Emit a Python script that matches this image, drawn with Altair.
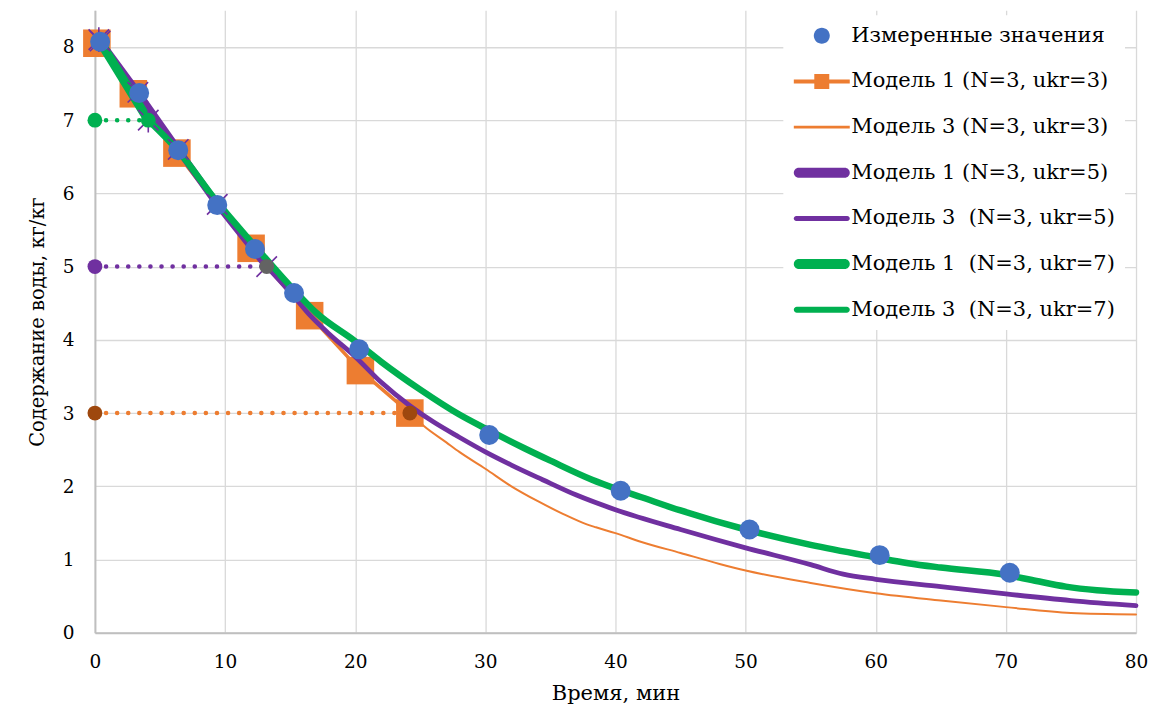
import altair as alt
import pandas as pd

# ---------------- data ----------------
meas_t = [0.4, 3.4, 6.4, 9.4, 12.3, 15.3, 20.3, 30.3, 40.4, 50.3, 60.3, 70.3]
meas_y = [8.07, 7.37, 6.59, 5.84, 5.24, 4.64, 3.87, 2.70, 1.94, 1.41, 1.06, 0.82]

m1u3_t = [0.15, 2.95, 6.3, 12.0, 16.5, 20.4, 24.2]
m1u3_y = [8.05, 7.36, 6.55, 5.25, 4.33, 3.58, 3.0]

m3u3_t = [24.2, 25.3, 27, 28, 30, 32, 34, 36, 37.8, 38.5, 40, 42, 45, 48, 50, 55, 60, 65, 70, 75, 80]
m3u3_y = [3.0, 2.82, 2.6, 2.47, 2.24, 2.0, 1.8, 1.62, 1.48, 1.44, 1.36, 1.24, 1.09, 0.94, 0.85, 0.68, 0.54, 0.44, 0.35, 0.27, 0.25]

m1u5_t = [0.4, 3.3, 6.4, 9.4, 13.2]
m1u5_y = [8.08, 7.38, 6.6, 5.85, 5.0]

m3u5_t = [13.2, 15.3, 16.5, 18, 20, 22, 24.2, 26, 28, 30, 32, 34.4, 37, 40, 45, 50, 55, 57.5, 60, 65, 70, 75, 80]
m3u5_y = [5.0, 4.59, 4.34, 4.08, 3.77, 3.42, 3.1, 2.88, 2.67, 2.47, 2.29, 2.09, 1.88, 1.68, 1.41, 1.16, 0.93, 0.80, 0.73, 0.63, 0.53, 0.44, 0.37]

m1u7_t = [0.3, 4.1]
m1u7_y = [8.1, 7.0]

m3u7_t = [4.1, 6.4, 9.4, 12.3, 15.3, 17, 20, 22, 25, 28, 30, 33, 35, 38.2, 40, 42, 45, 50, 55, 60, 62.5, 65, 70, 72, 74.6, 77, 80]
m3u7_y = [7.0, 6.58, 5.88, 5.28, 4.68, 4.37, 3.98, 3.7, 3.32, 2.98, 2.79, 2.52, 2.35, 2.09, 1.97, 1.85, 1.67, 1.41, 1.2, 1.03, 0.95, 0.89, 0.79, 0.72, 0.63, 0.58, 0.55]

# critical points (dotted guides from the y-axis)
crit_t = [24.2, 13.2, 4.1]
crit_y = [3.0, 5.0, 7.0]

series_names = [
    "Измеренные значения",
    "Модель 1 (N=3, ukr=3)",
    "Модель 3 (N=3, ukr=3)",
    "Модель 1 (N=3, ukr=5)",
    "Модель 3\u00a0 (N=3, ukr=5)",
    "Модель 1\u00a0 (N=3, ukr=7)",
    "Модель 3\u00a0 (N=3, ukr=7)",
]

BLUE = "#4472C4"
ORANGE = "#ED7D31"
PURPLE = "#7030A0"
GREEN = "#00B050"
BROWN = "#9E480E"
GRAY = "#636363"
FONT = "DejaVu Serif"

def frame(t, y):
    return pd.DataFrame({"t": t, "y": y})

d_meas = frame(meas_t, meas_y)
d_m1u3 = frame(m1u3_t, m1u3_y)
d_m3u3 = frame(m3u3_t, m3u3_y)
d_m1u5 = frame(m1u5_t, m1u5_y)
d_m3u5 = frame(m3u5_t, m3u5_y)
d_m1u7 = frame(m1u7_t, m1u7_y)
d_m3u7 = frame(m3u7_t, m3u7_y)

xs = alt.Scale(domain=[0, 80], nice=False)
ys = alt.Scale(domain=[0, 8.5], nice=False)

xaxis = alt.Axis(values=list(range(0, 81, 10)), title="Время, мин", grid=True, ticks=False,
                 labelFlush=False, domainColor="#BFBFBF", domainWidth=2, format="d",
                 gridColor="#D9D9D9", gridWidth=1.3,
                 labelFont=FONT, labelFontSize=18.5, labelColor="black", labelPadding=20,
                 titleFont=FONT, titleFontSize=21, titleFontWeight="normal", titleColor="black",
                 titlePadding=11)
yaxis = alt.Axis(values=list(range(0, 9)), title="Содержание воды, кг/кг", grid=True, ticks=False,
                 domainColor="#BFBFBF", domainWidth=2, gridColor="#D9D9D9", gridWidth=1.3, format="d",
                 labelFont=FONT, labelFontSize=18.5, labelColor="black", labelPadding=21,
                 titleFont=FONT, titleFontSize=19.5, titleFontWeight="normal", titleColor="black",
                 titlePadding=15)

X = alt.X("t:Q", scale=xs, axis=xaxis)
Y = alt.Y("y:Q", scale=ys, axis=yaxis)
Xn = alt.X("t:Q", scale=xs)
Yn = alt.Y("y:Q", scale=ys)

def line(df, color, width, interp="linear", **kw):
    return alt.Chart(df).mark_line(color=color, strokeWidth=width, interpolate=interp,
                                   strokeCap="round", strokeJoin="round", **kw).encode(x=Xn, y=Yn)

def dots(df, color, size, shape="circle", filled=True, sw=None):
    kw = {}
    if sw is not None:
        kw["strokeWidth"] = sw
    return alt.Chart(df).mark_point(shape=shape, filled=filled, size=size, color=color,
                                    opacity=1, **kw).encode(x=Xn, y=Yn)

base = alt.Chart(d_meas).mark_point(opacity=0).encode(x=X, y=Y)

l_m1u3 = line(d_m1u3, ORANGE, 3.5)
p_m1u3 = dots(d_m1u3, ORANGE, 760, shape="square")
l_m3u3 = line(d_m3u3, ORANGE, 2, "monotone")
l_m1u5 = line(d_m1u5, PURPLE, 7)
l_m3u5 = line(d_m3u5, PURPLE, 4.8, "monotone")
l_m1u7 = line(d_m1u7, GREEN, 9)
l_m3u7 = line(d_m3u7, GREEN, 6.5, "monotone")

XPATH = "M-1,-1L1,1M-1,1L1,-1"
STAR = "M-1,-1L1,1M-1,1L1,-1M0,-1.2L0,1.2"
p_m1u5 = dots(d_m1u5, PURPLE, 420, shape=XPATH, filled=False, sw=1.6)
p_m1u7 = dots(d_m1u7, PURPLE, 420, shape=STAR, filled=False, sw=1.6)

# dotted guides and their end dots
guide_colors = [ORANGE, PURPLE, GREEN]
start_colors = [BROWN, PURPLE, GREEN]
end_colors = [BROWN, GRAY, GREEN]
guide_layers = []
dot_layers = []
for t, y, gc, sc, ec in zip(crit_t, crit_y, guide_colors, start_colors, end_colors):
    g = frame([0.0, t], [y, y])
    guide_layers.append(line(g, gc, 4.5, strokeDash=[0.1, 11]))
    dot_layers.append(dots(frame([0.0], [y]), sc, 220))
    dot_layers.append(dots(frame([t], [y]), ec, 220))

p_meas = dots(d_meas, BLUE, 400)

# ---------------- legend (native, built from a colour + shape scale) ----------------
def rect(x0, y0, x1, y1):
    return f"M{x0},{y0}L{x1},{y0}L{x1},{y1}L{x0},{y1}Z"

def rline(Lh, h):
    return (f"M{-Lh},{-h}L{Lh},{-h}A{h},{h} 0 0,1 {Lh},{h}L{-Lh},{h}"
            f"A{h},{h} 0 0,1 {-Lh},{-h}Z")

L = 2.8
circle_path = "M-0.8,0A0.8,0.8 0 1,0 0.8,0A0.8,0.8 0 1,0 -0.8,0Z"
legend_shapes = [
    circle_path,
    rect(-L, -0.2, L, 0.2) + rect(-0.75, -0.75, 0.75, 0.75),
    rect(-L, -0.13, L, 0.13),
    rline(L - 0.5, 0.5),
    rline(L - 0.25, 0.25),
    rline(L - 0.5, 0.5),
    rline(L - 0.3, 0.3),
]
legend_colors = [BLUE, ORANGE, ORANGE, PURPLE, PURPLE, GREEN, GREEN]

all_frames = [d_meas, d_m1u3, d_m3u3, d_m1u5, d_m3u5, d_m1u7, d_m3u7]
d_all = pd.concat([f.assign(series=s) for f, s in zip(all_frames, series_names)], ignore_index=True)

leg = alt.Legend(title=None, orient="none", legendX=689, legendY=5,
                 fillColor="white", padding=10,
                 labelFont=FONT, labelFontSize=21, labelColor="black",
                 labelLimit=0, labelOffset=19,
                 symbolSize=400, symbolOpacity=1, symbolStrokeWidth=0,
                 symbolOffset=18, rowPadding=23.7)

legend_layer = alt.Chart(d_all).mark_point(filled=True, opacity=0).encode(
    x=Xn, y=Yn,
    color=alt.Color("series:N", scale=alt.Scale(domain=series_names, range=legend_colors), legend=leg),
    shape=alt.Shape("series:N", scale=alt.Scale(domain=series_names, range=legend_shapes), legend=leg),
)

chart = alt.layer(
    base, l_m1u3, p_m1u3, l_m3u3, l_m1u5, l_m3u5, l_m1u7, l_m3u7,
    p_m1u5, p_m1u7, *guide_layers, *dot_layers, p_meas, legend_layer
).properties(
    width=1042, height=623,
    padding={"left": 19, "top": 2, "right": 0, "bottom": 0},
    background="white",
).configure_view(stroke=None)

chart.save("out.html", embed_options={"renderer": "svg", "actions": False})
